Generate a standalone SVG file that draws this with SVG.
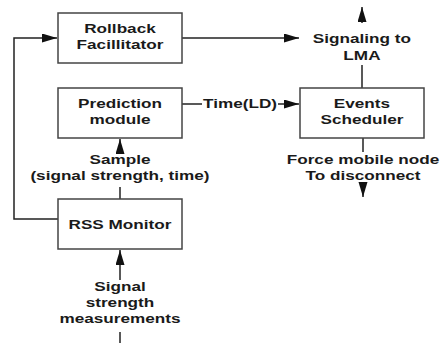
<svg xmlns="http://www.w3.org/2000/svg" width="440" height="343" viewBox="0 0 440 343">
<style>
.box{fill:#fff;stroke:#444;stroke-width:1.5}
.ln{fill:none;stroke:#222;stroke-width:1.5}
.arr{marker-end:url(#ah)}
text{font-family:"Liberation Sans",Arial,sans-serif;font-weight:bold;font-size:13px;fill:#1a1a1a;text-anchor:middle}
</style>
<defs>
<marker id="ah" markerUnits="userSpaceOnUse" markerWidth="16" markerHeight="10" refX="15" refY="4.5" orient="auto">
<path d="M0,0 L15,4.5 L0,9 z" fill="#111"/>
</marker>
</defs>
<rect width="440" height="343" fill="#fff"/>
<g id="connectors">
<path class="ln arr" d="M58,219 H14 V38 H57"/>
<path class="ln arr" d="M182,38 H299"/>
<path class="ln" d="M182,104 H202"/>
<path class="ln arr" d="M278,104 H299"/>
<path class="ln" d="M362,88 V65"/>
<path class="ln arr" d="M362,23 V7"/>
<path class="ln" d="M363,138 V152"/>
<path class="ln arr" d="M363,184 V197"/>
<path class="ln" d="M120,199 V187"/>
<path class="ln arr" d="M120,152 V139"/>
<path class="ln arr" d="M120,280 V250"/>
<path class="ln" d="M120,332 V343"/>
</g>
<g id="rollback"><rect class="box" x="58" y="13" width="124" height="50"/></g>
<g id="prediction"><rect class="box" x="58" y="88" width="124" height="50"/></g>
<g id="rss"><rect class="box" x="58" y="199" width="124" height="50"/></g>
<g id="events"><rect class="box" x="300" y="88" width="124" height="50"/></g>
<g id="labels" transform="scale(1.32,1)">
<text x="90.9" y="33">Rollback</text>
<text x="90.9" y="49">Facillitator</text>
<text x="90.9" y="108">Prediction</text>
<text x="90.9" y="124">module</text>
<text x="90.9" y="229">RSS Monitor</text>
<text x="274.2" y="108">Events</text>
<text x="274.2" y="124">Scheduler</text>
<text x="274.2" y="43">Signaling to</text>
<text x="274.2" y="60">LMA</text>
<text x="181.8" y="108">Time(LD)</text>
<text x="90.9" y="164">Sample</text>
<text x="90.9" y="180">(signal strength, time)</text>
<text x="275" y="164">Force mobile node</text>
<text x="275" y="180">To disconnect</text>
<text x="90.9" y="291">Signal</text>
<text x="90.9" y="307">strength</text>
<text x="90.9" y="323">measurements</text>
</g>
</svg>
